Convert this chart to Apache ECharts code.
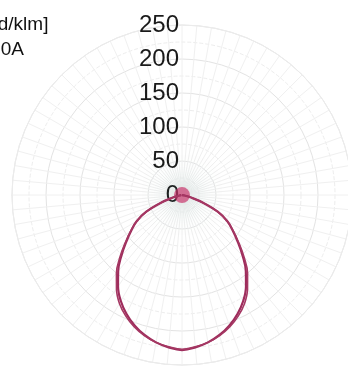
<!DOCTYPE html>
<html>
<head>
<meta charset="utf-8">
<script src="https://cdn.jsdelivr.net/npm/echarts@6/dist/echarts.min.js"></script>
<style>html,body{margin:0;padding:0;background:#fff}#c{width:348px;height:368px}</style>
</head>
<body>
<div id="c"></div>
<script>
// angle from nadir (degrees), intensity in cd/klm
var gammaAngles = [0, 5, 10, 15, 20, 25, 30, 35, 40, 45, 50, 55, 60, 65, 70, 75, 80, 85, 90];
var planeC0 =     [228, 225, 220, 213, 204, 193, 180, 164, 146, 126, 107, 91, 77, 58, 33, 13, 4, 1, 0];
var planeC90 =    [227, 224, 220, 214, 206, 196, 184, 168, 150, 129, 109, 92, 77, 57, 32, 13, 4, 1, 0];
var radiusTicks = [0, 50, 100, 150, 200, 250];
var unitLine1 = '[cd/klm]';
var unitLine2 = 'C0A';
var centerPoint = [[0, 0]];

function curve(vals) {
  var out = [];
  for (var i = vals.length - 1; i >= 0; i--) out.push([vals[i], 180 - gammaAngles[i]]);
  for (var j = 1; j < vals.length; j++) out.push([vals[j], 180 + gammaAngles[j]]);
  return out;
}

var chart = echarts.init(document.getElementById('c'), null, {renderer: 'canvas'});
chart.setOption({
  animation: false,
  backgroundColor: '#fff',
  polar: { center: ['52.3%', '53%'], radius: 170 },
  angleAxis: {
    type: 'value', min: 0, max: 360, interval: 5, startAngle: 90, clockwise: true,
    axisLine: { show: true, lineStyle: { color: '#ececec', width: 1 } },
    axisTick: { show: false }, axisLabel: { show: false },
    splitLine: { show: true, lineStyle: { color: '#f0f0f0', width: 1 } }
  },
  radiusAxis: {
    type: 'value', min: radiusTicks[0], max: radiusTicks[radiusTicks.length - 1], interval: 50,
    axisLine: { show: false }, axisTick: { show: false },
    axisLabel: { show: true, fontSize: 24, fontFamily: 'Liberation Sans, Arial, sans-serif', color: '#1a1a1a', margin: 3 },
    splitLine: { show: true, lineStyle: { color: '#e3e3e3', width: 1 } },
    minorTick: { show: false, splitNumber: 2 },
    minorSplitLine: { show: true, lineStyle: { color: '#ededed', width: 1, type: 'dashed' } }
  },
  graphic: [
    { type: 'text', left: -17, top: 15, style: { text: unitLine1, font: '19px "Liberation Sans", Arial, sans-serif', fill: '#111' } },
    { type: 'text', left: -13, top: 40, style: { text: unitLine2, font: '19px "Liberation Sans", Arial, sans-serif', fill: '#111' } }
  ],
  series: [
    { type: 'line', coordinateSystem: 'polar', data: curve(planeC0), symbol: 'none', smooth: 0.4,
      lineStyle: { color: '#9e2c5c', width: 2.2 }, z: 3 },
    { type: 'line', coordinateSystem: 'polar', data: curve(planeC90), symbol: 'none', smooth: 0.4,
      lineStyle: { color: '#a53863', width: 1.6 }, z: 3 },
    { type: 'scatter', coordinateSystem: 'polar', data: centerPoint, symbolSize: 16,
      itemStyle: { color: 'rgba(200,50,105,0.85)', shadowBlur: 30, shadowColor: 'rgba(90,170,150,0.8)' }, z: 2 }
  ]
});
</script>
</body>
</html>
